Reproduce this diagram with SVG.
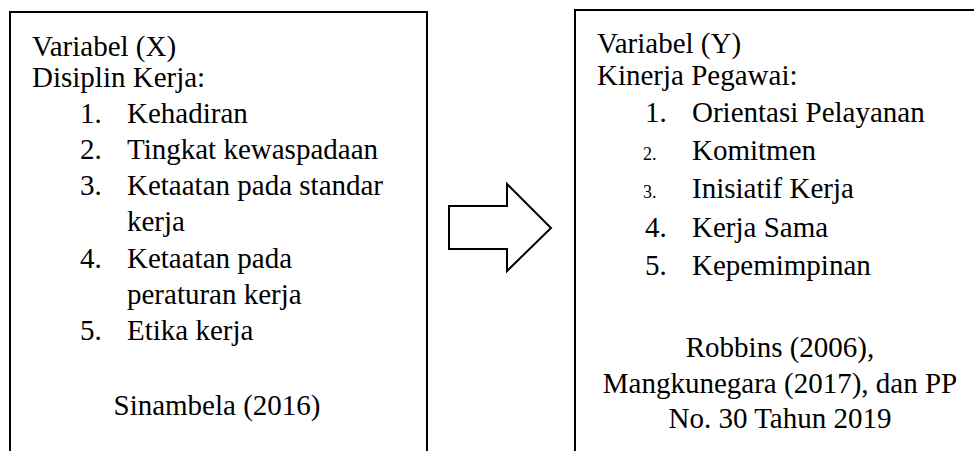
<svg xmlns="http://www.w3.org/2000/svg" width="974" height="451" viewBox="0 0 974 451">
<style>
  .box { fill: #ffffff; stroke: #000000; stroke-width: 2; }
  .t { font-family: "Liberation Serif", "Times New Roman", serif; font-size: 29px; fill: #000000; }
  .sm { font-family: "Liberation Serif", "Times New Roman", serif; font-size: 18px; fill: #000000; }
  .c { text-anchor: middle; }
  .arrow { fill: #ffffff; stroke: #000000; stroke-width: 2; stroke-linejoin: miter; }
</style>
<rect width="974" height="451" fill="#ffffff"/>
<g id="node-x">
  <rect class="box" x="10" y="12" width="417" height="460"/>
  <text class="t" x="32" y="56">Variabel (X)</text>
  <text class="t" x="32" y="87">Disiplin Kerja:</text>
  <text class="t" x="80" y="123">1.</text><text class="t" x="127" y="123">Kehadiran</text>
  <text class="t" x="80" y="159">2.</text><text class="t" x="127" y="159">Tingkat kewaspadaan</text>
  <text class="t" x="80" y="195">3.</text><text class="t" x="127" y="195">Ketaatan pada standar</text>
  <text class="t" x="127" y="231">kerja</text>
  <text class="t" x="80" y="268">4.</text><text class="t" x="127" y="268">Ketaatan pada</text>
  <text class="t" x="127" y="304">peraturan kerja</text>
  <text class="t" x="80" y="340">5.</text><text class="t" x="127" y="340">Etika kerja</text>
  <text class="t c" x="217" y="415">Sinambela (2016)</text>
</g>
<g id="node-y">
  <rect class="box" x="575" y="10" width="420" height="462"/>
  <text class="t" x="597" y="53">Variabel (Y)</text>
  <text class="t" x="597" y="85">Kinerja Pegawai:</text>
  <text class="t" x="645" y="122">1.</text><text class="t" x="692" y="122">Orientasi Pelayanan</text>
  <text class="sm" x="643" y="160">2.</text><text class="t" x="692" y="160">Komitmen</text>
  <text class="sm" x="643" y="198">3.</text><text class="t" x="692" y="198">Inisiatif Kerja</text>
  <text class="t" x="645" y="237">4.</text><text class="t" x="692" y="237">Kerja Sama</text>
  <text class="t" x="645" y="275">5.</text><text class="t" x="692" y="275">Kepemimpinan</text>
  <text class="t c" x="780" y="357">Robbins (2006),</text>
  <text class="t c" x="780" y="393">Mangkunegara (2017), dan PP</text>
  <text class="t c" x="780" y="428">No. 30 Tahun 2019</text>
</g>
<g id="connectors">
  <polygon class="arrow" points="449,206 507,206 507,184 551,228 507,271 507,249 449,249"/>
</g>
</svg>
